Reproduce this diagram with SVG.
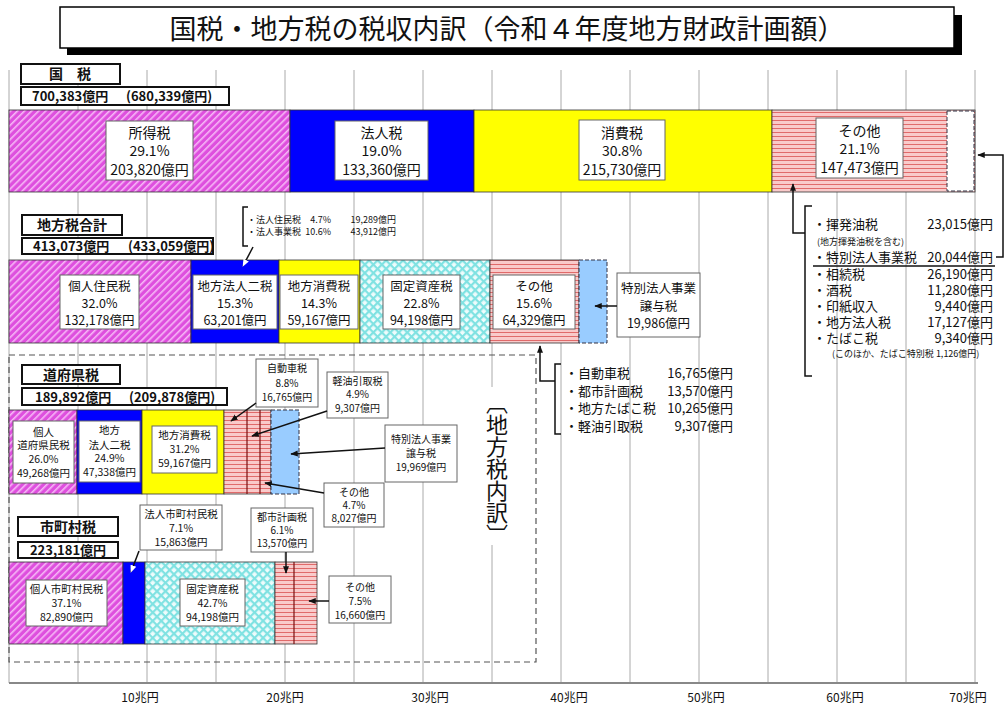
<svg xmlns="http://www.w3.org/2000/svg" width="1005" height="709" viewBox="0 0 1005 709">
<defs>
<pattern id="pMag" width="5" height="5" patternUnits="userSpaceOnUse" patternTransform="rotate(45)"><rect width="5" height="5" fill="#de4fde"/><rect width="1.6" height="5" fill="#f6b8f6"/></pattern>
<pattern id="pStripe" width="4" height="4" patternUnits="userSpaceOnUse"><rect width="4" height="4" fill="#f9caca"/><rect width="4" height="1" fill="#e06a6a"/></pattern>
<pattern id="pCross" width="6" height="6" patternUnits="userSpaceOnUse" patternTransform="rotate(45)"><rect width="6" height="6" fill="#effcfc"/><rect width="2.2" height="6" fill="#80e2e2"/><rect width="6" height="2.2" fill="#80e2e2"/></pattern>
<marker id="ah" viewBox="0 0 10 10" refX="9" refY="5" markerWidth="5" markerHeight="5" orient="auto"><path d="M0,1 L10,5 L0,9 z" fill="#111"/></marker>
<marker id="ahw" viewBox="0 0 10 10" refX="9" refY="5" markerWidth="5" markerHeight="5" orient="auto"><path d="M0,1 L10,5 L0,9 z" fill="#fff"/></marker>
</defs>
<style>
text{font-family:"Noto Sans CJK JP","Noto Sans CJK SC",sans-serif;fill:#111}
.grid{stroke:#aaa;stroke-width:1}
.seg{stroke:#333;stroke-width:0.8}
.lbl{fill:#fff;stroke:#666;stroke-width:1}
.sec{fill:#fff;stroke:#111;stroke-width:2}
.t14{font-size:14px;text-anchor:middle}
.t13{font-size:12.5px;text-anchor:middle}
.t11{font-size:10.5px;text-anchor:middle}
.t10{font-size:10px;text-anchor:middle}
.b{font-weight:bold}
.li{font-size:13px}
.lv{font-size:13px;text-anchor:end}
.sm{font-size:9px}
.con{fill:none;stroke:#111;stroke-width:1.5}
.dash{stroke:#334;stroke-width:1;stroke-dasharray:4 2}
</style>

<g id="grid">
<path class="grid" d="M9,70V683M78,70V683M147,70V683M216,70V683M285,70V683M354,70V683M423,70V683M492,70V683M561,70V683M630,70V683M699,70V683M768,70V683M837,70V683M906,70V683M975,70V683"/>
<line x1="9" y1="683" x2="978" y2="683" stroke="#888" stroke-width="2"/>
<text x="140" y="702" font-size="12" text-anchor="middle">10兆円</text>
<text x="285" y="702" font-size="12" text-anchor="middle">20兆円</text>
<text x="430" y="702" font-size="12" text-anchor="middle">30兆円</text>
<text x="569" y="702" font-size="12" text-anchor="middle">40兆円</text>
<text x="706" y="702" font-size="12" text-anchor="middle">50兆円</text>
<text x="845" y="702" font-size="12" text-anchor="middle">60兆円</text>
<text x="968" y="702" font-size="12" text-anchor="middle">70兆円</text>
</g>

<g id="title">
<rect x="67" y="15" width="895" height="40" fill="#000"/>
<rect x="60" y="7" width="894" height="41" fill="#fff" stroke="#000" stroke-width="1.5"/>
<text x="507" y="39" font-size="27" text-anchor="middle">国税・地方税の税収内訳（令和４年度地方財政計画額）</text>
</g>

<g id="kokuzei">
<rect class="sec" x="21" y="64" width="99" height="20"/>
<text class="b" x="70" y="79" font-size="14" text-anchor="middle">国　税</text>
<rect class="sec" x="21" y="87" width="208" height="18"/>
<text class="b" x="32" y="101" font-size="13">700,383億円</text>
<text class="b" x="126" y="101" font-size="13">(680,339億円)</text>
<rect class="seg" x="9" y="110" width="281" height="82" fill="url(#pMag)"/>
<rect class="seg" x="290" y="110" width="184" height="82" fill="#0000ff"/>
<rect class="seg" x="474" y="110" width="298" height="82" fill="#ffff00"/>
<rect class="seg" x="772" y="110" width="203" height="82" fill="url(#pStripe)"/>
<rect class="dash" x="947" y="111" width="27" height="80" fill="#fff"/>
<rect class="lbl" x="106" y="121" width="87" height="59"/>
<text class="t14" x="149.5" y="138">所得税</text><text class="t14" x="149.5" y="156">29.1%</text><text class="t14" x="149.5" y="175">203,820億円</text>
<rect class="lbl" x="335" y="121" width="93" height="59"/>
<text class="t14" x="381.5" y="138">法人税</text><text class="t14" x="381.5" y="156">19.0%</text><text class="t14" x="381.5" y="175">133,360億円</text>
<rect class="lbl" x="579" y="120" width="86" height="60"/>
<text class="t14" x="622" y="138">消費税</text><text class="t14" x="622" y="156">30.8%</text><text class="t14" x="622" y="175">215,730億円</text>
<rect class="lbl" x="816" y="118" width="87" height="60"/>
<text class="t14" x="859.5" y="136">その他</text><text class="t14" x="859.5" y="154">21.1%</text><text class="t14" x="859.5" y="173">147,473億円</text>
</g>

<g id="kokuzei-list">
<text class="li" x="813" y="229">・揮発油税</text><text class="lv" x="993" y="229">23,015億円</text>
<text class="sm" x="817" y="245">(地方揮発油税を含む)</text>
<text class="li" x="813" y="262">・特別法人事業税</text><text class="lv" x="993" y="262">20,044億円</text>
<line x1="813" y1="266" x2="995" y2="266" stroke="#111" stroke-width="1.5"/>
<text class="li" x="813" y="279">・相続税</text><text class="lv" x="993" y="279">26,190億円</text>
<text class="li" x="813" y="295">・酒税</text><text class="lv" x="993" y="295">11,280億円</text>
<text class="li" x="813" y="311">・印紙収入</text><text class="lv" x="993" y="311">9,440億円</text>
<text class="li" x="813" y="327">・地方法人税</text><text class="lv" x="993" y="327">17,127億円</text>
<text class="li" x="813" y="343">・たばこ税</text><text class="lv" x="993" y="343">9,340億円</text>
<text class="sm" x="832" y="357">(このほか、たばこ特別税 1,126億円)</text>
</g>

<g id="chihouzei">
<rect class="sec" x="22" y="215" width="100" height="20"/>
<text class="b" x="72" y="230" font-size="14" text-anchor="middle">地方税合計</text>
<rect class="sec" x="22" y="238" width="191" height="16"/>
<text class="b" x="33" y="251" font-size="13">413,073億円</text>
<text class="b" x="128" y="251" font-size="13">(433,059億円)</text>
<rect class="seg" x="9" y="260" width="182" height="83" fill="url(#pMag)"/>
<rect class="seg" x="191" y="260" width="88" height="83" fill="#0000ff"/>
<rect class="seg" x="279" y="260" width="81" height="83" fill="#ffff00"/>
<rect class="seg" x="360" y="260" width="130" height="83" fill="url(#pCross)"/>
<rect class="seg" x="490" y="260" width="89" height="83" fill="url(#pStripe)"/>
<rect class="dash" x="579" y="260" width="28" height="83" fill="#99ccff"/>
<rect class="lbl" x="60" y="275" width="79" height="54"/>
<text class="t13" x="99.5" y="291">個人住民税</text><text class="t13" x="99.5" y="308">32.0%</text><text class="t13" x="99.5" y="325">132,178億円</text>
<rect class="lbl" x="193" y="275" width="84" height="54"/>
<text class="t13" x="235" y="291">地方法人二税</text><text class="t13" x="235" y="308">15.3%</text><text class="t13" x="235" y="325">63,201億円</text>
<rect class="lbl" x="280" y="275" width="78" height="54"/>
<text class="t13" x="319" y="291">地方消費税</text><text class="t13" x="319" y="308">14.3%</text><text class="t13" x="319" y="325">59,167億円</text>
<rect class="lbl" x="383" y="275" width="77" height="54"/>
<text class="t13" x="421.5" y="291">固定資産税</text><text class="t13" x="421.5" y="308">22.8%</text><text class="t13" x="421.5" y="325">94,198億円</text>
<rect class="lbl" x="493" y="275" width="82" height="54"/>
<text class="t13" x="534" y="291">その他</text><text class="t13" x="534" y="308">15.6%</text><text class="t13" x="534" y="325">64,329億円</text>
<rect class="lbl" x="617" y="273" width="83" height="64"/>
<text class="t13" x="658.5" y="293">特別法人事業</text><text class="t13" x="658.5" y="311">譲与税</text><text class="t13" x="658.5" y="328">19,986億円</text>
<text class="sm" x="247" y="223">・法人住民税</text><text class="sm" x="331" y="223" text-anchor="end">4.7%</text><text class="sm" x="396" y="223" text-anchor="end">19,289億円</text>
<text class="sm" x="247" y="235">・法人事業税</text><text class="sm" x="331" y="235" text-anchor="end">10.6%</text><text class="sm" x="396" y="235" text-anchor="end">43,912億円</text>
</g>

<g id="chihouzei-list">
<text class="li" x="565" y="378">・自動車税</text><text class="lv" x="733" y="378">16,765億円</text>
<text class="li" x="565" y="396">・都市計画税</text><text class="lv" x="733" y="396">13,570億円</text>
<text class="li" x="565" y="413">・地方たばこ税</text><text class="lv" x="733" y="413">10,265億円</text>
<text class="li" x="565" y="431">・軽油引取税</text><text class="lv" x="733" y="431">9,307億円</text>
</g>

<g id="uchiwake">
<rect x="9" y="355" width="527" height="307" fill="none" stroke="#555" stroke-width="1.2" stroke-dasharray="6 4"/>
<rect x="484" y="387" width="27" height="158" fill="#fff"/>
<text x="497" y="392" font-size="22" style="writing-mode:vertical-rl">〔地方税内訳〕</text>
</g>

<g id="doufukenzei">
<rect class="sec" x="22" y="365" width="98" height="19"/>
<text class="b" x="71" y="380" font-size="14" text-anchor="middle">道府県税</text>
<rect class="sec" x="22" y="388" width="205" height="17"/>
<text class="b" x="35" y="402" font-size="13">189,892億円</text>
<text class="b" x="129" y="402" font-size="13">(209,878億円)</text>
<rect class="seg" x="9" y="410" width="68" height="84" fill="url(#pMag)"/>
<rect class="seg" x="77" y="410" width="65" height="84" fill="#0000ff"/>
<rect class="seg" x="142" y="410" width="82" height="84" fill="#ffff00"/>
<rect class="seg" x="224" y="410" width="47" height="84" fill="url(#pStripe)"/>
<path d="M247,410V494M260,410V494" stroke="#7a1010" stroke-width="1.2"/>
<rect class="dash" x="271" y="410" width="28" height="84" fill="#99ccff"/>
<rect class="lbl" x="13" y="421" width="61" height="62"/>
<text class="t11" x="43.5" y="436">個人</text><text class="t11" x="43.5" y="449">道府県民税</text><text class="t11" x="43.5" y="463">26.0%</text><text class="t11" x="43.5" y="477">49,268億円</text>
<rect class="lbl" x="79" y="421" width="61" height="61"/>
<text class="t11" x="109.5" y="434">地方</text><text class="t11" x="109.5" y="449">法人二税</text><text class="t11" x="109.5" y="462">24.9%</text><text class="t11" x="109.5" y="476">47,338億円</text>
<rect class="lbl" x="152" y="426" width="65" height="47"/>
<text class="t11" x="184.5" y="439">地方消費税</text><text class="t11" x="184.5" y="453">31.2%</text><text class="t11" x="184.5" y="467">59,167億円</text>
<rect class="lbl" x="256" y="359" width="62" height="48"/>
<text class="t10" x="287" y="372">自動車税</text><text class="t10" x="287" y="387">8.8%</text><text class="t10" x="287" y="401">16,765億円</text>
<rect class="lbl" x="327" y="372" width="61" height="46"/>
<text class="t10" x="357.5" y="385">軽油引取税</text><text class="t10" x="357.5" y="398">4.9%</text><text class="t10" x="357.5" y="412">9,307億円</text>
<rect class="lbl" x="385" y="425" width="72" height="57"/>
<text class="t10" x="421" y="443">特別法人事業</text><text class="t10" x="421" y="457">譲与税</text><text class="t10" x="421" y="471">19,969億円</text>
<rect class="lbl" x="324" y="483" width="60" height="44"/>
<text class="t10" x="354" y="496">その他</text><text class="t10" x="354" y="509">4.7%</text><text class="t10" x="354" y="522">8,027億円</text>
</g>

<g id="shichousonzei">
<rect class="sec" x="18" y="517" width="100" height="19"/>
<text class="b" x="68" y="532" font-size="14" text-anchor="middle">市町村税</text>
<rect class="sec" x="18" y="542" width="100" height="16"/>
<text class="b" x="68" y="555" font-size="13" text-anchor="middle">223,181億円</text>
<rect class="seg" x="9" y="562" width="114" height="82" fill="url(#pMag)"/>
<rect class="seg" x="123" y="562" width="22" height="82" fill="#0000ff"/>
<rect class="seg" x="145" y="562" width="130" height="82" fill="url(#pCross)"/>
<rect class="seg" x="275" y="562" width="42" height="82" fill="url(#pStripe)"/>
<path d="M294,562V644" stroke="#7a1010" stroke-width="1.2"/>
<rect class="lbl" x="26" y="580" width="81" height="46"/>
<text class="t11" x="66.5" y="593">個人市町村民税</text><text class="t11" x="66.5" y="607">37.1%</text><text class="t11" x="66.5" y="621">82,890億円</text>
<rect class="lbl" x="140" y="505" width="82" height="45"/>
<text class="t11" x="181" y="518">法人市町村民税</text><text class="t11" x="181" y="532">7.1%</text><text class="t11" x="181" y="546">15,863億円</text>
<rect class="lbl" x="180" y="579" width="65" height="47"/>
<text class="t11" x="212.5" y="593">固定資産税</text><text class="t11" x="212.5" y="607">42.7%</text><text class="t11" x="212.5" y="621">94,198億円</text>
<rect class="lbl" x="251" y="508" width="62" height="44"/>
<text class="t10" x="282" y="521">都市計画税</text><text class="t10" x="282" y="534">6.1%</text><text class="t10" x="282" y="547">13,570億円</text>
<rect class="lbl" x="329" y="576" width="62" height="47"/>
<text class="t10" x="360" y="591">その他</text><text class="t10" x="360" y="605">7.5%</text><text class="t10" x="360" y="619">16,660億円</text>
</g>

<g id="connectors">
<path class="con" d="M996,257H1003V155H978" marker-end="url(#ah)"/>
<path class="con" d="M812,206H805V376H812"/>
<path class="con" d="M805,233H793V184" marker-end="url(#ah)"/>
<path class="con" d="M248,207H243V246H248"/>
<path class="con" d="M253,247L243,266" marker-end="url(#ahw)"/>
<path class="con" d="M561,364H555V434H561"/>
<path class="con" d="M555,381H540V346" marker-end="url(#ah)"/>
<path class="con" d="M617,306H595" marker-end="url(#ah)"/>
<path class="con" d="M256,403L231,421" marker-end="url(#ah)"/>
<path class="con" d="M327,411L252,436" marker-end="url(#ah)"/>
<path class="con" d="M385,448L291,454" marker-end="url(#ah)"/>
<path class="con" d="M324,493L265,483" marker-end="url(#ah)"/>
<path class="con" d="M139,551L131,572" marker-end="url(#ahw)"/>
<path class="con" d="M286,552V573" marker-end="url(#ah)"/>
<path class="con" d="M329,601H309" marker-end="url(#ah)"/>
</g>
</svg>
